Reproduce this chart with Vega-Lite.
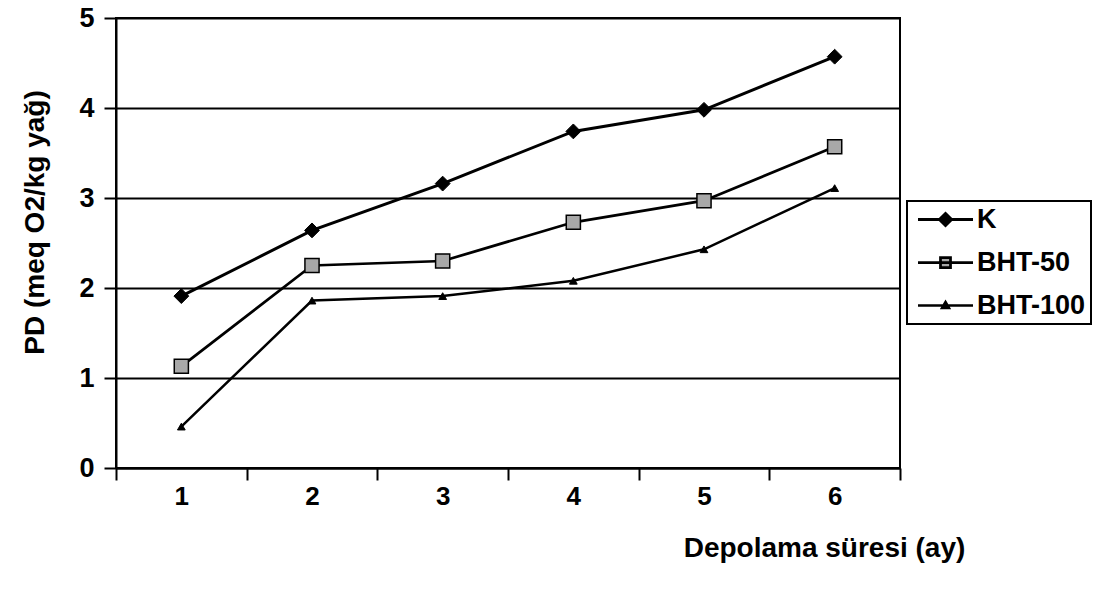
{
  "$schema": "https://vega.github.io/schema/vega-lite/v6.json",
  "autosize": {"type": "none"},
  "width": 784,
  "height": 450,
  "padding": {"left": 116, "top": 18, "right": 193, "bottom": 128},
  "background": "white",
  "config": {
    "font": "Liberation Sans",
    "view": {"stroke": "black", "strokeWidth": 2},
    "axis": {"labelFont": "Liberation Sans", "titleFont": "Liberation Sans", "labelFontWeight": "bold", "titleFontWeight": "bold", "labelColor": "black", "titleColor": "black"}
  },
  "data": {"values": [
    {"month": "1", "series": "K", "pd": 1.91},
    {"month": "2", "series": "K", "pd": 2.64},
    {"month": "3", "series": "K", "pd": 3.16},
    {"month": "4", "series": "K", "pd": 3.74},
    {"month": "5", "series": "K", "pd": 3.98},
    {"month": "6", "series": "K", "pd": 4.57},
    {"month": "1", "series": "BHT-50", "pd": 1.13},
    {"month": "2", "series": "BHT-50", "pd": 2.25},
    {"month": "3", "series": "BHT-50", "pd": 2.3},
    {"month": "4", "series": "BHT-50", "pd": 2.73},
    {"month": "5", "series": "BHT-50", "pd": 2.97},
    {"month": "6", "series": "BHT-50", "pd": 3.57},
    {"month": "1", "series": "BHT-100", "pd": 0.46},
    {"month": "2", "series": "BHT-100", "pd": 1.86},
    {"month": "3", "series": "BHT-100", "pd": 1.91},
    {"month": "4", "series": "BHT-100", "pd": 2.08},
    {"month": "5", "series": "BHT-100", "pd": 2.43},
    {"month": "6", "series": "BHT-100", "pd": 3.11}
  ]},
  "encoding": {
    "x": {
      "field": "month", "type": "ordinal", "bandPosition": 0.5,
      "scale": {"type": "band", "paddingInner": 0, "paddingOuter": 0},
      "axis": {
        "title": "Depolama süresi (ay)", "labelAngle": 0, "tickBand": "extent",
        "domainColor": "black", "domainWidth": 2, "tickColor": "black", "tickWidth": 2, "tickSize": 12,
        "labelFontSize": 26, "labelPadding": 3,
        "titleFontSize": 28, "titleX": 708, "titleY": 80, "titleAlign": "center", "titleBaseline": "middle"
      }
    },
    "y": {
      "field": "pd", "type": "quantitative",
      "scale": {"domain": [0, 5], "nice": false},
      "axis": {
        "title": "PD (meq O2/kg yağ)", "values": [0, 1, 2, 3, 4, 5],
        "grid": true, "gridColor": "black", "gridWidth": 2, "gridOpacity": 1,
        "domainColor": "black", "domainWidth": 2, "tickColor": "black", "tickWidth": 2, "tickSize": 12,
        "labelFontSize": 27, "labelPadding": 10,
        "titleFontSize": 28, "titleX": -81, "titleY": 204, "titleAlign": "center", "titleBaseline": "middle", "titleAngle": -90
      }
    }
  },
  "layer": [
    {
      "mark": {"type": "line"},
      "encoding": {
        "color": {
          "field": "series", "type": "nominal",
          "scale": {"domain": ["K", "BHT-50", "BHT-100"], "range": ["black", "black", "black"]},
          "legend": {
            "title": null, "orient": "none", "legendX": 791, "legendY": 183,
            "strokeColor": "black", "padding": 5, "fillColor": "white",
            "labelFont": "Liberation Sans", "labelFontSize": 27, "labelFontWeight": "bold", "labelColor": "black",
            "symbolSize": 100, "symbolOffset": 20, "labelOffset": 18, "rowPadding": 15,
            "encode": {
              "legend": {"update": {"strokeWidth": {"value": 2}}},
              "symbols": {"update": {
                "shape": {"signal": "datum.value === 'K' ? 'M-5.5,0L5.5,0M0,-1.2L1.2,0L0,1.2L-1.2,0Z' : datum.value === 'BHT-50' ? 'M-5.5,0L5.5,0M-1,-1L1,-1L1,1L-1,1Z' : 'M-5.5,0L5.5,0M0,-0.7L0.7,0.5L-0.7,0.5Z'"},
                "fill": {"signal": "datum.value === 'BHT-50' ? '#a8a8a8' : 'black'"},
                "stroke": {"value": "black"},
                "strokeWidth": {"signal": "datum.value === 'K' ? 2.4 : datum.value === 'BHT-50' ? 1.8 : 1.2"},
                "opacity": {"value": 1}
              }}
            }
          }
        },
        "strokeWidth": {
          "field": "series", "type": "nominal",
          "scale": {"domain": ["K", "BHT-50", "BHT-100"], "range": [3, 2.5, 1.8]},
          "legend": null
        }
      }
    },
    {
      "transform": [{"filter": "datum.series === 'K'"}],
      "mark": {"type": "point", "shape": "diamond", "size": 220, "filled": true, "fill": "black", "stroke": "black", "strokeWidth": 1, "opacity": 1}
    },
    {
      "transform": [{"filter": "datum.series === 'BHT-50'"}],
      "mark": {"type": "point", "shape": "square", "size": 200, "filled": true, "fill": "#a8a8a8", "stroke": "black", "strokeWidth": 1.5, "opacity": 1}
    },
    {
      "transform": [{"filter": "datum.series === 'BHT-100'"}],
      "mark": {"type": "point", "shape": "triangle-up", "size": 60, "filled": true, "fill": "black", "stroke": "black", "strokeWidth": 1, "opacity": 1}
    }
  ]
}
